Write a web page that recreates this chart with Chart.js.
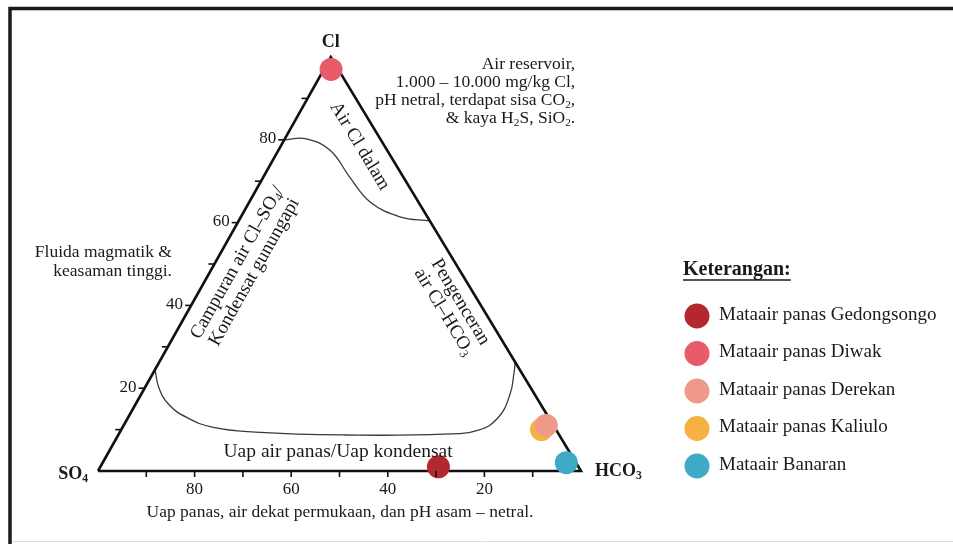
<!DOCTYPE html>
<html>
<head>
<meta charset="utf-8">
<title>Diagram Cl-SO4-HCO3</title>
<script src="https://cdn.jsdelivr.net/npm/chart.js@4.4.1/dist/chart.umd.min.js"></script>
<style>
  html, body { margin: 0; padding: 0; background: #fff; }
  canvas { display: block; }
</style>
</head>
<body>
<canvas id="ternaryChart" width="953" height="544"></canvas>
<script>
'use strict';

// ============================================================================
// DATA (ternary composition in %, Cl + SO4 + HCO3 = 100)
// ============================================================================

const sampleNames = [
    'Mataair panas Gedongsongo',
    'Mataair panas Diwak',
    'Mataair panas Derekan',
    'Mataair panas Kaliulo',
    'Mataair Banaran'
];
const sampleCl   = [1, 97, 11, 10, 2];
const sampleSO4  = [29, 1.5, 1.5, 3, 2];
const sampleHCO3 = [70, 1.5, 87.5, 87, 96];
const sampleColors = ['#b3282e', '#e85b6b', '#ef9a88', '#f5b142', '#40a9c6'];

// boundary "Air Cl dalam" (left edge at Cl 80 -> right edge at Cl ~60)
const deepClCurveCl   = [80, 80.3, 77.5, 70.8, 65, 61.4, 60.4];
const deepClCurveHCO3 = [0, 4.2, 10.7, 18.1, 25, 32.9, 39.6];

// boundary "Uap air panas / Uap kondensat"
const steamCurveCl   = [24.5, 20, 16, 13, 10.6, 9.4, 8.7, 8.9, 9.9, 12.8, 18.4, 24, 26.3];
const steamCurveHCO3 = [0, 3, 7, 12, 18.5, 28, 47, 67.5, 74, 76.6, 76.4, 74.6, 73.7];

const tickValues = [10, 20, 30, 40, 50, 60, 70, 80, 90];
const tickLabels = [20, 40, 60, 80];

// ============================================================================
// GEOMETRY HELPERS
// ============================================================================

const FONT = '"Liberation Serif", "DejaVu Serif", serif';
const TEXT_COLOR = '#1a1a1a';
/** horizontal position of the Cl apex as a fraction of the base */
const APEX_SHIFT = 0.482;

/**
 * Converts a ternary composition to the chart's value space.
 * x runs from SO4 (0) to HCO3 (100), y is the Cl share.
 */
function toXY(cl, hco3) {
    return { x: hco3 + APEX_SHIFT * cl, y: cl };
}

function curvePoints(clList, hco3List) {
    return clList.map((cl, i) => toXY(cl, hco3List[i]));
}

/** Splits "CO_2," into plain and subscript parts */
function richParts(str) {
    const parts = [];
    const re = /_(\d)/g;
    let last = 0;
    let m;
    while ((m = re.exec(str))) {
        if (m.index > last) parts.push({ t: str.slice(last, m.index), sub: false });
        parts.push({ t: m[1], sub: true });
        last = re.lastIndex;
    }
    if (last < str.length) parts.push({ t: str.slice(last), sub: false });
    return parts;
}

function drawRich(ctx, str, x, y, size, weight, align) {
    const parts = richParts(str);
    const fontFor = p => `${weight} ${p.sub ? size * 0.65 : size}px ${FONT}`;
    let total = 0;
    parts.forEach(p => {
        ctx.font = fontFor(p);
        p.w = ctx.measureText(p.t).width;
        total += p.w;
    });
    let cx = align === 'right' ? x - total : align === 'center' ? x - total / 2 : x;
    ctx.textAlign = 'left';
    ctx.textBaseline = 'middle';
    parts.forEach(p => {
        ctx.font = fontFor(p);
        ctx.fillText(p.t, cx, p.sub ? y + size * 0.26 : y);
        cx += p.w;
    });
    return total;
}

// ============================================================================
// ANNOTATIONS (anchored in chart value space)
// ============================================================================

const annotations = [
    { lines: ['Air reservoir,', '1.000 – 10.000 mg/kg Cl,', 'pH netral, terdapat sisa CO_2,', '& kaya H_2S, SiO_2.'],
      x: 98.8, y: 98.1, size: 17.5, lineH: 17.8, align: 'right' },
    { lines: ['Fluida magmatik &', 'keasaman tinggi.'],
      x: 15.3, y: 52.7, size: 17.5, lineH: 19, align: 'right' },
    { lines: ['Uap air panas/Uap kondensat'],
      x: 49.7, y: 4.6, size: 19.5, lineH: 20, align: 'center' },
    { lines: ['Uap panas, air dekat permukaan, dan pH asam – netral.'],
      x: 50.1, y: -10.1, size: 17.5, lineH: 20, align: 'center' },
    { lines: ['Air Cl dalam'],
      x: 54.2, y: 78.5, size: 19, lineH: 20, align: 'center', edge: 'right' },
    { lines: ['Pengenceran', 'air Cl–HCO_3'],
      x: 73.3, y: 39.6, size: 19, lineH: 19.5, align: 'center', edge: 'right' },
    { lines: ['Campuran air Cl–SO_4/', 'Kondensat gunungapi'],
      x: 30.6, y: 49.2, size: 19, lineH: 19.5, align: 'center', edge: 'left' }
];

// ============================================================================
// PLUGINS
// ============================================================================

const backgroundPlugin = {
    id: 'background',
    beforeDraw(chart) {
        const ctx = chart.ctx;
        ctx.save();
        ctx.fillStyle = '#fff';
        ctx.fillRect(0, 0, chart.width, chart.height);
        // page frame
        ctx.strokeStyle = '#1a1a1a';
        ctx.lineWidth = 3.5;
        ctx.beginPath();
        ctx.moveTo(10, chart.height + 5);
        ctx.lineTo(10, 8.5);
        ctx.lineTo(chart.width + 5, 8.5);
        ctx.stroke();
        ctx.strokeStyle = '#dedede';
        ctx.lineWidth = 1;
        ctx.beginPath();
        ctx.moveTo(12, 541.5);
        ctx.lineTo(chart.width, 541.5);
        ctx.stroke();
        ctx.restore();
    }
};

const ternaryPlugin = {
    id: 'ternaryDecor',
    afterDraw(chart) {
        const ctx = chart.ctx;
        const xs = chart.scales.x;
        const ys = chart.scales.y;
        const px = p => ({ x: xs.getPixelForValue(p.x), y: ys.getPixelForValue(p.y) });

        const so4 = px(toXY(0, 0));
        const hco3 = px(toXY(0, 100));
        const cl = px(toXY(100, 0));
        const rightAngle = Math.atan2(hco3.y - cl.y, hco3.x - cl.x);
        const leftAngle = Math.atan2(cl.y - so4.y, cl.x - so4.x);

        ctx.save();
        ctx.strokeStyle = '#111';
        ctx.fillStyle = TEXT_COLOR;
        ctx.lineWidth = 1.6;

        // ticks on the SO4 axis (bottom) and Cl axis (left)
        tickValues.forEach(v => {
            const b = px(toXY(0, 100 - v));
            ctx.beginPath();
            ctx.moveTo(b.x, b.y);
            ctx.lineTo(b.x, b.y + 6);
            ctx.stroke();
            const l = px(toXY(v, 0));
            ctx.beginPath();
            ctx.moveTo(l.x, l.y);
            ctx.lineTo(l.x - 6, l.y);
            ctx.stroke();
        });
        tickLabels.forEach(v => {
            const b = px(toXY(0, 100 - v));
            drawRich(ctx, String(v), b.x, b.y + 19, 17, 'normal', 'center');
            const l = px(toXY(v, 0));
            drawRich(ctx, String(v), l.x - 8, l.y - 1, 17, 'normal', 'right');
        });

        // vertex labels
        drawRich(ctx, 'Cl', cl.x, cl.y - 15, 18, 'bold', 'center');
        drawRich(ctx, 'SO_4', so4.x - 10, so4.y + 3, 18, 'bold', 'right');
        drawRich(ctx, 'HCO_3', hco3.x + 14, hco3.y, 18, 'bold', 'left');

        // text annotations
        annotations.forEach(a => {
            const p = px({ x: a.x, y: a.y });
            ctx.save();
            ctx.translate(p.x, p.y);
            if (a.edge === 'right') ctx.rotate(rightAngle);
            if (a.edge === 'left') ctx.rotate(leftAngle);
            const offset = a.edge ? -(a.lines.length - 1) / 2 * a.lineH : 0;
            a.lines.forEach((line, i) => {
                drawRich(ctx, line, 0, offset + i * a.lineH, a.size, 'normal', a.align);
            });
            ctx.restore();
        });

        // legend
        const legendX = 683;
        const legendTop = 270;
        const w = drawRich(ctx, 'Keterangan:', legendX, legendTop, 20, 'bold', 'left');
        ctx.lineWidth = 1.5;
        ctx.strokeStyle = TEXT_COLOR;
        ctx.beginPath();
        ctx.moveTo(legendX, legendTop + 10);
        ctx.lineTo(legendX + w, legendTop + 10);
        ctx.stroke();
        chart.data.datasets.filter(d => d.isSample).forEach((d, i) => {
            const cy = legendTop + 46 + i * 37.5;
            ctx.fillStyle = d.backgroundColor;
            ctx.beginPath();
            ctx.arc(legendX + 14, cy, 12.5, 0, Math.PI * 2);
            ctx.fill();
            ctx.fillStyle = TEXT_COLOR;
            drawRich(ctx, d.label, legendX + 36, cy - 1, 19, 'normal', 'left');
        });
        ctx.restore();
    }
};

// ============================================================================
// CHART
// ============================================================================

const sampleDatasets = sampleNames.map((name, i) => ({
    label: name,
    isSample: true,
    data: [toXY(sampleCl[i], sampleHCO3[i])],
    so4: sampleSO4[i],
    backgroundColor: sampleColors[i],
    borderWidth: 0,
    pointRadius: 11.5,
    pointHoverRadius: 11.5,
    clip: false
}));

const lineStyle = {
    showLine: true,
    pointRadius: 0,
    fill: false,
    clip: false
};

const triangleDataset = Object.assign({
    label: 'frame',
    data: [toXY(0, 0), toXY(0, 100), toXY(100, 0), toXY(0, 0)],
    borderColor: '#111',
    borderWidth: 2.6,
    borderJoinStyle: 'miter',
    tension: 0
}, lineStyle);

const deepClDataset = Object.assign({
    label: 'deepCl',
    data: curvePoints(deepClCurveCl, deepClCurveHCO3),
    borderColor: '#3a3a3a',
    borderWidth: 1.3,
    tension: 0.4
}, lineStyle);

const steamDataset = Object.assign({
    label: 'steam',
    data: curvePoints(steamCurveCl, steamCurveHCO3),
    borderColor: '#3a3a3a',
    borderWidth: 1.3,
    tension: 0.45
}, lineStyle);

new Chart(document.getElementById('ternaryChart'), {
    type: 'scatter',
    data: {
        datasets: [...sampleDatasets, triangleDataset, deepClDataset, steamDataset]
    },
    options: {
        responsive: false,
        animation: false,
        devicePixelRatio: 1,
        layout: { padding: { left: 98, right: 372, top: 57, bottom: 73 } },
        scales: {
            x: { type: 'linear', min: 0, max: 100, display: false },
            y: { type: 'linear', min: 0, max: 100, display: false }
        },
        plugins: {
            legend: { display: false },
            title: { display: false },
            tooltip: { enabled: false }
        }
    },
    plugins: [backgroundPlugin, ternaryPlugin]
});
</script>
</body>
</html>
